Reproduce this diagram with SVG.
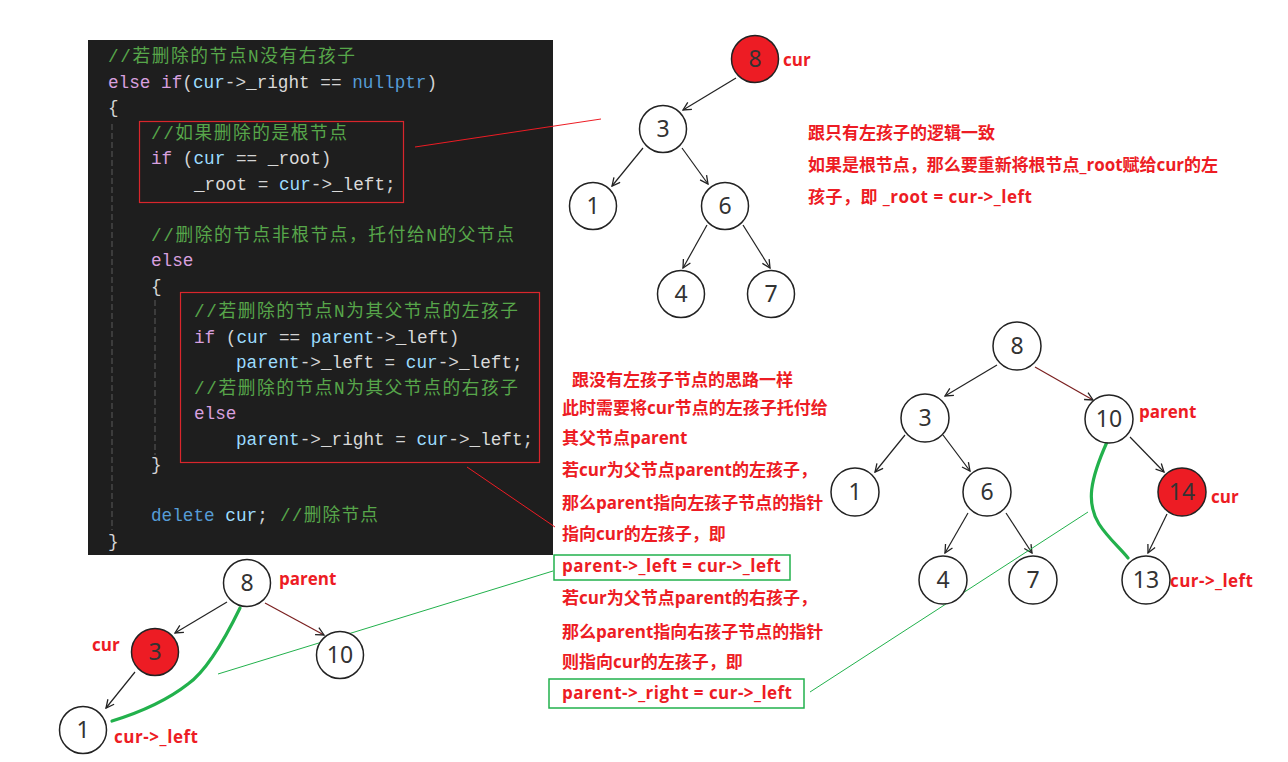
<svg xmlns="http://www.w3.org/2000/svg" width="1288" height="762" viewBox="0 0 1288 762">
<style>
.code{font-family:"Liberation Mono","Noto Sans CJK SC",monospace;font-size:17.7px;fill:#d4d4d4;white-space:pre}
.cm{fill:#57a64a}
.kw{fill:#d8a0df}
.id{fill:#9cdcfe}
.mb{fill:#dadada}
.bl{fill:#569cd6}
.pn{fill:#d4d4d4}
.note{font-family:"Open Sans","Noto Sans CJK SC",sans-serif;font-weight:bold;font-size:17px;fill:#ed1c24}
.lbl{font-family:"Open Sans","Noto Sans CJK SC",sans-serif;font-weight:bold;font-size:17px;fill:#ed1c24}
.nd circle{fill:#fff;stroke:#222;stroke-width:1.5}
.nd.red circle{fill:#ed1c24}
.nd text{font-family:"Noto Sans","DejaVu Sans",sans-serif;font-size:23px;fill:#333;text-anchor:middle}
.edge{stroke:#222;stroke-width:1.2;fill:none;marker-end:url(#arr)}
.edge.dr{stroke:#7a1f1f}
.guide{stroke:#5a5a5a;stroke-width:1;stroke-dasharray:6 3}
.rbox{fill:none;stroke:#d9262c;stroke-width:1.2}
.gbox{fill:none;stroke:#22b14c;stroke-width:1.5}
.thinr{stroke:#ed1c24;stroke-width:1;fill:none}
.thing{stroke:#22b14c;stroke-width:1;fill:none}
.thick{stroke:#22b14c;stroke-width:3.2;fill:none;stroke-linecap:round}
</style>
<defs>
<marker id="arr" viewBox="0 0 10 10" refX="9" refY="5" markerWidth="10" markerHeight="10" markerUnits="userSpaceOnUse" orient="auto">
<path d="M1,1 L9,5 L1,9" fill="none" stroke="#222" stroke-width="1.3"/>
</marker>
</defs>
<rect width="1288" height="762" fill="#ffffff"/>

<g id="code">
<rect x="88" y="40" width="465" height="515" fill="#1e1e1e"/>
<line class="guide" x1="112" y1="124" x2="112" y2="530"/>
<line class="guide" x1="155" y1="300" x2="155" y2="455"/>
<rect class="rbox" x="139.5" y="121.5" width="264" height="81"/>
<rect class="rbox" x="180.5" y="292.5" width="359" height="170"/>
<text class="code cm" x="108" y="62" textLength="247" lengthAdjust="spacing">//若删除的节点N没有右孩子</text>
<text class="code" x="108" y="87.5"><tspan class="kw">else if</tspan><tspan class="pn">(</tspan><tspan class="id">cur</tspan><tspan class="pn">-&gt;</tspan><tspan class="mb">_right</tspan><tspan class="pn"> == </tspan><tspan class="bl">nullptr</tspan><tspan class="pn">)</tspan></text>
<text class="code" x="108" y="113">{</text>
<text class="code cm" x="151" y="138.5" textLength="196" lengthAdjust="spacing">//如果删除的是根节点</text>
<text class="code" x="151" y="164"><tspan class="kw">if</tspan><tspan class="pn"> (</tspan><tspan class="id">cur</tspan><tspan class="pn"> == </tspan><tspan class="mb">_root</tspan><tspan class="pn">)</tspan></text>
<text class="code" x="194" y="189.5"><tspan class="mb">_root</tspan><tspan class="pn"> = </tspan><tspan class="id">cur</tspan><tspan class="pn">-&gt;</tspan><tspan class="mb">_left</tspan><tspan class="pn">;</tspan></text>
<text class="code cm" x="151" y="240.5" textLength="363" lengthAdjust="spacing">//删除的节点非根节点，托付给N的父节点</text>
<text class="code kw" x="151" y="266">else</text>
<text class="code" x="151" y="291.5">{</text>
<text class="code cm" x="194" y="317" textLength="324" lengthAdjust="spacing">//若删除的节点N为其父节点的左孩子</text>
<text class="code" x="194" y="342.5"><tspan class="kw">if</tspan><tspan class="pn"> (</tspan><tspan class="id">cur</tspan><tspan class="pn"> == </tspan><tspan class="id">parent</tspan><tspan class="pn">-&gt;</tspan><tspan class="mb">_left</tspan><tspan class="pn">)</tspan></text>
<text class="code" x="236" y="368"><tspan class="id">parent</tspan><tspan class="pn">-&gt;</tspan><tspan class="mb">_left</tspan><tspan class="pn"> = </tspan><tspan class="id">cur</tspan><tspan class="pn">-&gt;</tspan><tspan class="mb">_left</tspan><tspan class="pn">;</tspan></text>
<text class="code cm" x="194" y="393.5" textLength="324" lengthAdjust="spacing">//若删除的节点N为其父节点的右孩子</text>
<text class="code kw" x="194" y="419">else</text>
<text class="code" x="236" y="444.5"><tspan class="id">parent</tspan><tspan class="pn">-&gt;</tspan><tspan class="mb">_right</tspan><tspan class="pn"> = </tspan><tspan class="id">cur</tspan><tspan class="pn">-&gt;</tspan><tspan class="mb">_left</tspan><tspan class="pn">;</tspan></text>
<text class="code" x="151" y="470">}</text>
<text class="code" x="151" y="521"><tspan class="bl">delete</tspan><tspan class="pn"> </tspan><tspan class="id">cur</tspan><tspan class="pn">;</tspan></text>
<text class="code cm" x="280" y="521" textLength="98" lengthAdjust="spacing">//删除节点</text>
<text class="code" x="108" y="546.5">}</text>
</g>

<g id="connectors">
<line class="edge" x1="736" y1="78" x2="683" y2="110"/>
<line class="edge" x1="643" y1="148" x2="612" y2="186"/>
<line class="edge" x1="682" y1="148" x2="708" y2="184"/>
<line class="edge" x1="707" y1="225" x2="683" y2="268"/>
<line class="edge" x1="743" y1="225" x2="770" y2="268"/>
<line class="edge" x1="997" y1="365" x2="945" y2="396"/>
<line class="edge dr" x1="1035" y1="367" x2="1093" y2="400"/>
<line class="edge" x1="905" y1="435" x2="875" y2="472"/>
<line class="edge" x1="943" y1="435" x2="970" y2="471"/>
<line class="edge" x1="1130" y1="437" x2="1164" y2="472"/>
<line class="edge" x1="968" y1="513" x2="945" y2="553"/>
<line class="edge" x1="1006" y1="513" x2="1032" y2="553"/>
<line class="edge" x1="1167" y1="514" x2="1148" y2="553"/>
<line class="edge" x1="227" y1="602" x2="175" y2="633"/>
<line class="edge dr" x1="265" y1="603" x2="324" y2="635"/>
<line class="edge" x1="135" y1="672" x2="106" y2="708"/>
<line class="thinr" x1="415" y1="147" x2="601" y2="119"/>
<line class="thinr" x1="467" y1="467" x2="555" y2="527"/>
<line class="thing" x1="218" y1="674" x2="553" y2="571"/>
<line class="thing" x1="810" y1="692" x2="1088" y2="512"/>
<path class="thick" d="M1107,442 C1090,480 1086,503 1099,524 C1108,538 1120,548 1128,558"/>
<path class="thick" d="M240,608 C222,645 205,672 188,684 C165,702 138,713 112,721"/>
</g>

<g id="top-tree">
<g id="t8" class="nd red"><circle cx="755" cy="59" r="23.5"/><text x="755" y="67">8</text></g>
<g id="t3" class="nd"><circle cx="663" cy="129" r="23.5"/><text x="663" y="137">3</text></g>
<g id="t1" class="nd"><circle cx="593" cy="206" r="23.5"/><text x="593" y="214">1</text></g>
<g id="t6" class="nd"><circle cx="725" cy="206" r="23.5"/><text x="725" y="214">6</text></g>
<g id="t4" class="nd"><circle cx="681" cy="294" r="23.5"/><text x="681" y="302">4</text></g>
<g id="t7" class="nd"><circle cx="771" cy="294" r="23.5"/><text x="771" y="302">7</text></g>
<text id="t-cur" class="lbl" x="783" y="66">cur</text>
</g>

<g id="right-tree">
<g id="r8" class="nd"><circle cx="1017" cy="346" r="24"/><text x="1017" y="354">8</text></g>
<g id="r3" class="nd"><circle cx="925" cy="418" r="24"/><text x="925" y="426">3</text></g>
<g id="r10" class="nd"><circle cx="1109" cy="419" r="24"/><text x="1109" y="427">10</text></g>
<g id="r1" class="nd"><circle cx="855" cy="492" r="24"/><text x="855" y="500">1</text></g>
<g id="r6" class="nd"><circle cx="987" cy="492" r="24"/><text x="987" y="500">6</text></g>
<g id="r14" class="nd red"><circle cx="1182" cy="492" r="24"/><text x="1182" y="500">14</text></g>
<g id="r4" class="nd"><circle cx="943" cy="580" r="24"/><text x="943" y="588">4</text></g>
<g id="r7" class="nd"><circle cx="1033" cy="580" r="24"/><text x="1033" y="588">7</text></g>
<g id="r13" class="nd"><circle cx="1146" cy="580" r="24"/><text x="1146" y="588">13</text></g>
<text id="r-parent" class="lbl" x="1139" y="418">parent</text>
<text id="r-cur" class="lbl" x="1211" y="503">cur</text>
<text id="r-curleft" class="lbl" x="1170" y="587" textLength="83" lengthAdjust="spacing">cur-&gt;_left</text>
</g>

<g id="bl-tree">
<g id="b8" class="nd"><circle cx="247" cy="583" r="23.5"/><text x="247" y="591">8</text></g>
<g id="b3" class="nd red"><circle cx="155" cy="652" r="23.5"/><text x="155" y="660">3</text></g>
<g id="b10" class="nd"><circle cx="340" cy="655" r="23.5"/><text x="340" y="663">10</text></g>
<g id="b1" class="nd"><circle cx="83" cy="730" r="23.5"/><text x="83" y="738">1</text></g>
<text id="b-parent" class="lbl" x="279" y="585">parent</text>
<text id="b-cur" class="lbl" x="92" y="651">cur</text>
<text id="b-curleft" class="lbl" x="114" y="743" textLength="84" lengthAdjust="spacing">cur-&gt;_left</text>
</g>

<g id="note-right">
<text class="note" x="808" y="139">跟只有左孩子的逻辑一致</text>
<text class="note" x="808" y="171" textLength="410" lengthAdjust="spacing">如果是根节点，那么要重新将根节点_root赋给cur的左</text>
<text class="note" x="808" y="203" textLength="224" lengthAdjust="spacing">孩子，即 _root = cur-&gt;_left</text>
</g>

<g id="note-middle">
<text class="note" x="572" y="386">跟没有左孩子节点的思路一样</text>
<text class="note" x="562" y="414">此时需要将cur节点的左孩子托付给</text>
<text class="note" x="562" y="444">其父节点parent</text>
<text class="note" x="562" y="476">若cur为父节点parent的左孩子，</text>
<text class="note" x="562" y="509">那么parent指向左孩子节点的指针</text>
<text class="note" x="562" y="540">指向cur的左孩子，即</text>
<rect class="gbox" x="554" y="555" width="236" height="25"/>
<text class="note" x="562" y="572" textLength="219" lengthAdjust="spacing">parent-&gt;_left = cur-&gt;_left</text>
<text class="note" x="562" y="604">若cur为父节点parent的右孩子，</text>
<text class="note" x="562" y="638">那么parent指向右孩子节点的指针</text>
<text class="note" x="562" y="668">则指向cur的左孩子，即</text>
<rect class="gbox" x="549" y="679" width="255" height="29"/>
<text class="note" x="562" y="699" textLength="230" lengthAdjust="spacing">parent-&gt;_right = cur-&gt;_left</text>
</g>
</svg>
